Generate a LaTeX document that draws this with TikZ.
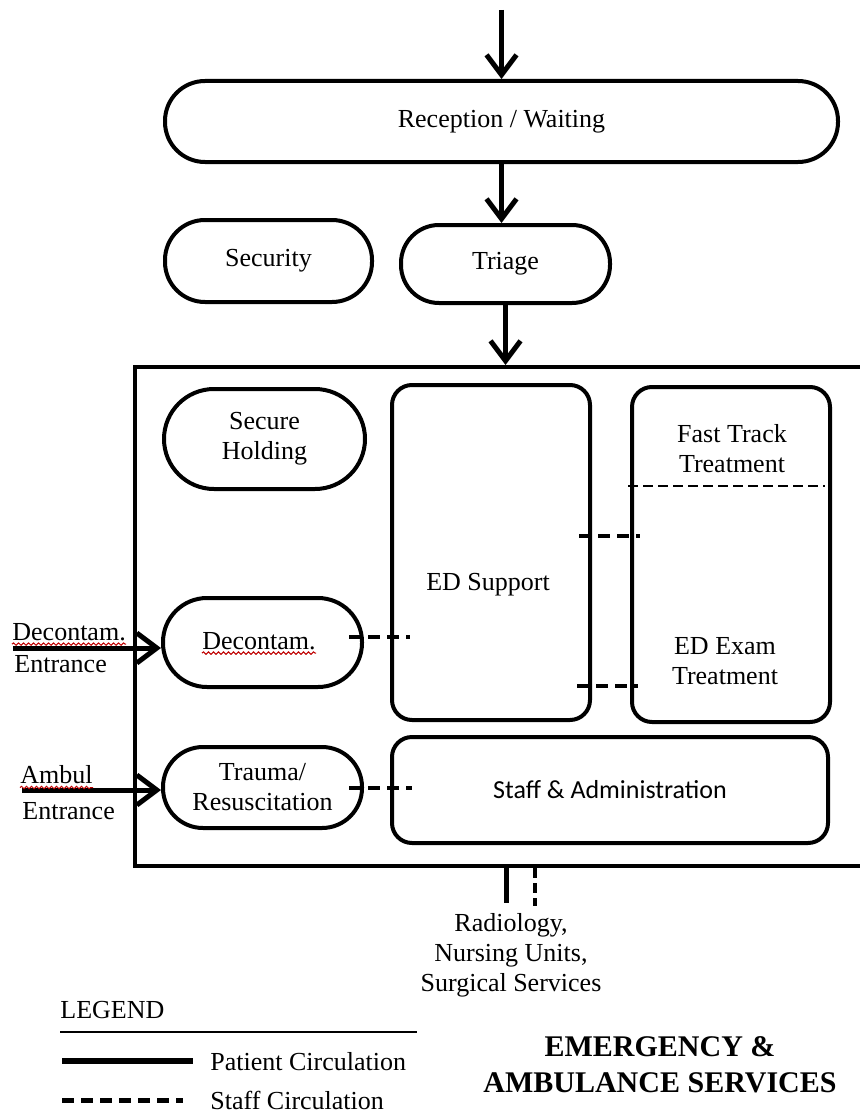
\documentclass[tikz,border=0pt]{standalone}
\usepackage{fontspec}
\setmainfont{Liberation Serif}
\newfontfamily\calfont{Carlito}
\usetikzlibrary{arrows.meta,decorations.pathmorphing}

\begin{document}
\begin{tikzpicture}[x=0.5pt, y=-0.5pt, >={Straight Barb[length=10pt,width=15pt]},
  font=\fontsize{13}{15}\selectfont,
  pill/.style={draw, line width=2pt, rounded corners=#1, inner sep=0pt, align=center},
  room/.style={draw, line width=2pt, rounded corners=10pt, inner sep=0pt},
  txt/.style={inner sep=0pt, align=center},
  patientline/.style={line width=2.5pt},
  staffline/.style={line width=2pt, dash pattern=on 6pt off 3.5pt},
  squiggle/.style={red!75!black, line width=0.5pt, decorate,
    decoration={snake, amplitude=0.6pt, segment length=2.5pt}}]
  \useasboundingbox (0,0) rectangle (860,1113);

  % Emergency department outline (runs off the right edge)
  \node[draw, line width=2pt, minimum width=372.5pt, minimum height=249.5pt, inner sep=0pt]
    (ed) at (507.5,616.5) {};

  % Entry zone
  \node[pill=20pt, minimum width=336.5pt, minimum height=40.5pt] (recep) at (501.5,121.5) {Reception / Waiting};
  \node[pill=20pt, minimum width=103.5pt, minimum height=41pt] (secur) at (268.5,261) {Security};
  \node[pill=19pt, minimum width=104.5pt, minimum height=39pt] (triage) at (505.5,264) {Triage};

  % Rooms inside the department
  \node[pill=25pt, minimum width=100.5pt, minimum height=50pt] (hold) at (264.5,439) {Secure\\Holding};
  \node[pill=22pt, minimum width=99.5pt, minimum height=44.5pt] (decon) at (262.5,642.5) {};
  \node[txt] (decontxt) at (259,641) {Decontam.};
  \node[pill=20pt, minimum width=99.5pt, minimum height=40.5pt] (trauma) at (262.5,787.5) {Trauma/\\Resuscitation};
  \node[room, minimum width=99pt, minimum height=167.5pt] (edsup) at (491,552.5) {};
  \node[txt] (edsuptxt) at (488,585) {ED Support};
  \node[room, minimum width=99pt, minimum height=167.5pt] (exam) at (731,554.5) {};
  \node[txt] (fasttxt) at (732,449) {Fast Track\\Treatment};
  \node[txt] (examtxt) at (725,661) {ED Exam\\Treatment};
  \node[room, minimum width=218pt, minimum height=53pt] (staff) at (610,790) {\calfont Staff \& Administration};

  % Fast track / exam split
  \coordinate (ftsplit) at (628,486);
  \draw[line width=1.2pt, dash pattern=on 5pt off 2.5pt] (ftsplit) -- ([xshift=-3.5pt]ftsplit -| exam.east);

  % Patient circulation
  \coordinate (entry) at (501.5,10);
  \draw[patientline, ->] (entry) -- (recep.north);
  \draw[patientline, ->] (recep.south) -- (recep.south |- triage.north);
  \draw[patientline, ->] (triage.south) -- (triage.south |- ed.north);

  % Side entrances
  \node[txt, anchor=west] (declbl) at (12,632) {Decontam.};
  \node[txt, anchor=west] (decent) at (14,664) {Entrance};
  \node[txt, anchor=west] (amblbl) at (20,775) {Ambul};
  \node[txt, anchor=west] (ambent) at (22,811) {Entrance};
  \coordinate (decin) at (13,648);
  \coordinate (ambin) at (22,790);
  \draw[patientline, ->] (decin) -- (decin -| decon.west);
  \draw[patientline, ->] (ambin) -- (ambin -| trauma.west);

  % spell-check marks
  \draw[squiggle] ([yshift=-1.5pt]declbl.south west) -- ([yshift=-1.5pt]declbl.south east);
  \draw[squiggle] ([yshift=-1.5pt]decontxt.south west) -- ([yshift=-1.5pt]decontxt.south east);
  \draw[squiggle] ([yshift=-1.5pt]amblbl.south west) -- ([yshift=-1.5pt]amblbl.south east);

  % Staff circulation
  \draw[staffline] ([xshift=-7.5pt,yshift=2.75pt]decon.east) -- ([xshift=10pt,yshift=2.75pt]decon.east -| edsup.west);
  \draw[staffline] ([xshift=-7.5pt]trauma.east) -- ([xshift=11pt]trauma.east -| staff.west);
  \draw[staffline] ([xshift=-6.5pt,yshift=8.25pt]edsup.east) -- ([xshift=5pt,yshift=8.25pt]edsup.east -| exam.west);
  \draw[staffline] ([xshift=-7.5pt,yshift=-66.75pt]edsup.east) -- ([xshift=4pt,yshift=-66.75pt]edsup.east -| exam.west);

  % Links to the rest of the hospital
  \coordinate (outp) at (506,903);
  \coordinate (outs) at (535,906);
  \draw[patientline] (ed.south -| outp) -- (outp);
  \draw[line width=2pt, dash pattern=on 5pt off 2.5pt] (ed.south -| outs) -- (outs);
  \node[txt] (hosp) at (511,955) {Radiology,\\Nursing Units,\\Surgical Services};

  % Legend
  \node[txt, anchor=west] (legend) at (60,1010) {LEGEND};
  \draw[line width=0.6pt] (60,1032) -- (417,1032);
  \coordinate (pkey) at (62,1061);
  \coordinate (skey) at (62,1100);
  \draw[line width=3pt] (pkey) -- ++(131,0);
  \draw[staffline, line width=2.5pt] (skey) -- ++(121,0);
  \node[txt, anchor=west] (pcirc) at (210,1062) {Patient Circulation};
  \node[txt, anchor=west] (scirc) at (210,1100) {Staff Circulation};

  % Title
  \node[txt, font=\fontsize{15}{18}\selectfont\bfseries] (title) at (660,1065)
    {EMERGENCY \&\\AMBULANCE SERVICES};
\end{tikzpicture}
\end{document}
